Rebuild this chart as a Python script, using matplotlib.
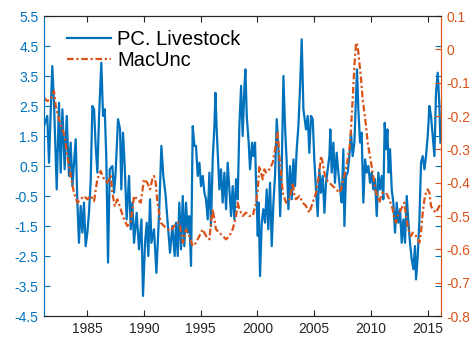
import numpy as np
import matplotlib
matplotlib.use("Agg")
import matplotlib.pyplot as plt
from matplotlib.ticker import FixedLocator, FormatStrFormatter

plt.rcParams["font.family"] = ["Liberation Sans", "DejaVu Sans"]

BLUE = "#0072BD"
ORANGE = "#D95319"
DARK = "#262626"

# principal component of livestock prices (left axis)
pc_years = [
    1981.20, 1981.49, 1981.64, 1981.93, 1982.08, 1982.32, 1982.52, 1982.67, 1982.82, 1983.02,
    1983.20, 1983.40, 1983.55, 1983.70, 1983.99, 1984.14, 1984.28, 1984.43, 1984.58, 1984.72,
    1984.87, 1985.02, 1985.16, 1985.31, 1985.46, 1985.61, 1985.75, 1985.90, 1986.05, 1986.25,
    1986.40, 1986.55, 1986.69, 1986.84, 1986.99, 1987.22, 1987.37, 1987.51, 1987.72, 1987.90,
    1988.01, 1988.16, 1988.31, 1988.48, 1988.69, 1988.84, 1988.98, 1989.13, 1989.36, 1989.57,
    1989.78, 1989.92, 1990.10, 1990.25, 1990.39, 1990.54, 1990.66, 1990.89, 1991.10, 1991.33,
    1991.54, 1991.71, 1991.92, 1992.07, 1992.30, 1992.51, 1992.71,
    1992.83, 1992.98, 1993.12, 1993.27, 1993.42, 1993.56, 1993.71, 1993.86, 1994.00, 1994.15,
    1994.30, 1994.45, 1994.59, 1994.74, 1994.89, 1995.03, 1995.18, 1995.33, 1995.47, 1995.62,
    1995.77, 1995.91, 1996.06, 1996.21, 1996.30, 1996.41, 1996.50, 1996.65, 1996.79, 1996.94,
    1997.09, 1997.24, 1997.38, 1997.53, 1997.68, 1997.82, 1997.97, 1998.12, 1998.26, 1998.41,
    1998.56, 1998.70, 1998.85, 1998.94, 1999.06, 1999.23, 1999.35, 1999.53, 1999.64, 1999.79,
    1999.88, 2000.03, 2000.11, 2000.23, 2000.38, 2000.52, 2000.67, 2000.82, 2000.96, 2001.11,
    2001.26, 2001.41, 2001.55, 2001.70, 2001.85, 2002.00, 2002.14, 2002.29, 2002.43, 2002.58,
    2002.73, 2002.87, 2003.02, 2003.17, 2003.31, 2003.46, 2003.61, 2003.76, 2003.90, 2004.05,
    2004.28, 2004.43, 2004.57, 2004.72, 2004.87, 2005.01, 2005.16, 2005.31, 2005.45, 2005.60,
    2005.75, 2005.90, 2006.04, 2006.19, 2006.34, 2006.42, 2006.54, 2006.69, 2006.83, 2006.98,
    2007.13, 2007.28, 2007.42, 2007.57, 2007.66, 2007.80, 2007.95, 2008.10, 2008.24, 2008.39,
    2008.54, 2008.69, 2008.77, 2008.89, 2009.04, 2009.18, 2009.33, 2009.48, 2009.63, 2009.77,
    2009.92, 2010.07, 2010.21, 2010.36, 2010.51, 2010.65, 2010.80, 2010.95, 2011.09, 2011.21,
    2011.33, 2011.45, 2011.56, 2011.68, 2011.83, 2011.97, 2012.12, 2012.27, 2012.41, 2012.56,
    2012.71, 2012.86, 2013.00, 2013.15, 2013.30, 2013.44, 2013.59, 2013.74, 2013.88, 2013.97,
    2014.12, 2014.27, 2014.41, 2014.56, 2014.71, 2014.85, 2015.00, 2015.15, 2015.29, 2015.44,
    2015.59, 2015.73, 2015.88, 2016.03, 2016.12,
]
pc_values = [
    1.83, 2.17, 0.61, 3.83, 2.61, -0.28, 2.61, 0.28, 2.39, 0.39,
    2.17, 0.17, 1.28, -0.17, 1.39, -0.72, -2.06, -0.83, -1.72, -0.72,
    -2.17, -1.72, -1.06, -0.06, 2.5, 2.39, 1.17, 0.28, 2.17, 3.94,
    2.17, 2.39, 0.72, -2.72, 0.39, 0.5, -0.39, 0.28, 2.06, 1.72,
    -0.28, 1.61, 0.5, -1.28, 0.17, -1.61, -0.72, -2.06, -1.06, -2.28,
    -1.28, -3.83, -2.06, -1.39, -2.5, -0.61, -2.06, -1.61, -3.06, -1.17,
    1.17, 0.17, -0.5, -1.28, -2.39, -1.5, -2.5,
    -1.39, -2.5, -0.72, -2.28, -0.5, -2.17, -0.72, -1.72, -1.17, -2.83,
    1.83, 1.17, 1.17, 0.17, 0.61, -0.17, 0.17, -0.39, -0.61, -1.28,
    0.28, -1.5, 0.72, 1.83, 2.94, 1.72, 0.94, -0.28, 0.39, -0.72,
    0.28, -0.94, 0.61, -0.28, -1.17, -0.17, -1.28, 0.06, -0.61, 1.83,
    3.17, 1.5, 3.06, 3.72, 2.17, 1.28, 0.39, 1.28, 0.83, 1.28,
    -0.06, -1.83, -0.72, -3.17, -1.39, -0.94, -1.39, -0.28, -1.61, -0.06,
    -2.17, -0.72, 0.17, 2.06, 1.06, -1.17, 0.39, 3.5, 1.83, 0.61,
    -0.94, 0.5, -0.61, 0.72, -0.17, 1.06, 1.83, 3.17, 4.72, 2.39,
    1.72, 2.17, 0.94, 2.17, 2.06, 0.72, -0.28, -1.17, 0.39, -0.39,
    0.17, -1.06, -0.06, 0.39, 0.83, 1.72, 0.28, 1.28, -0.06, 0.94,
    0.28, -0.28, -0.72, 1.06, -1.5, 0.17, 0.28, 0.83, 1.61, 0.83,
    1.28, 2.94, 3.72, 2.39, 1.28, 1.61, -0.72, 0.72, 0.28, 0.5,
    -0.06, 0.28, -0.28, 0.06, -1.17, 0.28, -0.28, 0.17, -0.61, 1.94,
    1.06, 1.72, 0.28, 1.06, -0.28, -0.72, -1.72, -0.72, -1.39, -0.94,
    -2.06, -1.28, -2.06, -0.5, -1.39, -2.06, -2.61, -2.94, -2.17, -3.28,
    -2.5, -1.28, 0.61, 0.83, 0.39, 0.83, 1.5, 2.5, 2.17, 1.5,
    0.83, 2.94, 3.61, 2.5, 1.28,
]

# macro uncertainty index (right axis)
unc_years = [
    1981.20, 1981.49, 1981.79, 1982.08, 1982.23, 1982.52, 1982.82, 1983.02, 1983.26, 1983.55,
    1983.84, 1984.14, 1984.43, 1984.72, 1985.02, 1985.31, 1985.61, 1985.90, 1986.19, 1986.49,
    1986.78, 1987.07, 1987.22, 1987.43, 1987.66, 1987.95, 1988.25, 1988.54, 1988.84, 1989.13,
    1989.42, 1989.72, 1990.01, 1990.30, 1990.54, 1990.74, 1990.89, 1991.04, 1991.19, 1991.48,
    1991.77, 1992.07, 1992.36, 1992.65, 1992.95,
    1993.12, 1993.42, 1993.71, 1994.00, 1994.30, 1994.59, 1994.89, 1995.18, 1995.47, 1995.77,
    1995.91, 1996.06, 1996.21, 1996.35, 1996.65, 1996.94, 1997.24, 1997.53, 1997.82, 1998.12,
    1998.26, 1998.41, 1998.70, 1998.99, 1999.29, 1999.58, 1999.88, 2000.03, 2000.17, 2000.32,
    2000.47, 2000.61, 2000.76, 2001.05, 2001.35, 2001.64, 2001.79, 2001.93, 2002.08, 2002.23,
    2002.52, 2002.82, 2003.11, 2003.26, 2003.40, 2003.70, 2003.99, 2004.28,
    2004.57, 2004.87, 2005.16, 2005.45, 2005.60, 2005.75, 2005.90, 2006.04, 2006.34, 2006.63,
    2006.92, 2007.22, 2007.36, 2007.51, 2007.80, 2008.10, 2008.24, 2008.39, 2008.54, 2008.69,
    2008.83, 2008.98, 2009.13, 2009.27, 2009.42, 2009.57, 2009.71, 2009.86, 2010.01, 2010.15,
    2010.30, 2010.45, 2010.59, 2010.74, 2010.89, 2011.03, 2011.33, 2011.62, 2011.92, 2012.06,
    2012.21, 2012.36, 2012.50, 2012.80, 2012.94, 2013.09, 2013.24, 2013.38, 2013.53, 2013.68,
    2013.97, 2014.27, 2014.41, 2014.56, 2014.71, 2014.85, 2015.00, 2015.15, 2015.29, 2015.44,
    2015.73, 2016.03, 2016.17,
]
unc_values = [
    -0.145, -0.155, -0.15, -0.125, -0.17, -0.21, -0.24, -0.26, -0.32, -0.38,
    -0.43, -0.46, -0.45, -0.44, -0.45, -0.44, -0.455, -0.39, -0.365, -0.39,
    -0.40, -0.38, -0.43, -0.47, -0.45, -0.48, -0.51, -0.53, -0.52, -0.44,
    -0.45, -0.46, -0.39, -0.40, -0.42, -0.39, -0.38, -0.40, -0.46, -0.52,
    -0.53, -0.54, -0.545, -0.53, -0.52,
    -0.52, -0.58, -0.54, -0.56, -0.59, -0.58, -0.56, -0.54, -0.56, -0.57,
    -0.52, -0.48, -0.51, -0.54, -0.55, -0.56, -0.57, -0.56, -0.54, -0.50,
    -0.46, -0.48, -0.50, -0.49, -0.50, -0.50, -0.46, -0.42, -0.35, -0.37,
    -0.39, -0.36, -0.37, -0.36, -0.34, -0.28, -0.25, -0.32, -0.37, -0.43,
    -0.46, -0.45, -0.40, -0.44, -0.45, -0.44, -0.46, -0.47,
    -0.49, -0.46, -0.43, -0.37, -0.32, -0.34, -0.37, -0.39, -0.40, -0.41,
    -0.42, -0.43, -0.42, -0.40, -0.36, -0.30, -0.24, -0.15, -0.05, 0.02,
    0.01, -0.04, -0.09, -0.15, -0.19, -0.23, -0.28, -0.31, -0.34, -0.37,
    -0.40, -0.43, -0.44, -0.46, -0.44, -0.43, -0.43, -0.45, -0.48, -0.51,
    -0.52, -0.50, -0.49, -0.47, -0.46, -0.50, -0.53, -0.55, -0.56, -0.55,
    -0.56, -0.58, -0.55, -0.49, -0.45, -0.43, -0.42, -0.43, -0.47, -0.48,
    -0.49, -0.47, -0.46,
]

left_ticks = [-4.5, -3.5, -2.5, -1.5, -0.5, 0.5, 1.5, 2.5, 3.5, 4.5, 5.5]
right_ticks = [-0.8, -0.7, -0.6, -0.5, -0.4, -0.3, -0.2, -0.1, 0, 0.1]
right_labels = ["-0.8", "-0.7", "-0.6", "-0.5", "-0.4", "-0.3", "-0.2", "-0.1", "0", "0.1"]
year_ticks = [1985, 1990, 1995, 2000, 2005, 2010, 2015]

fig = plt.figure(figsize=(4.73, 3.40), dpi=100)
ax = fig.add_axes([44 / 473, 24 / 340, 397 / 473, 300 / 340])
ax2 = ax.twinx()

l1, = ax.plot(pc_years, pc_values, color=BLUE, lw=1.6, label="PC. Livestock")
l2, = ax2.plot(unc_years, unc_values, color=ORANGE, lw=1.6,
               linestyle=(0, (3.0, 1.2, 1.0, 1.2)), label="MacUnc")

ax.set_xlim(1981.2, 2016.17)
ax.set_ylim(-4.5, 5.5)
ax2.set_ylim(-0.8, 0.1)

ax.set_xticks(year_ticks)
ax.yaxis.set_major_locator(FixedLocator(left_ticks))
ax.yaxis.set_major_formatter(FormatStrFormatter("%.1f"))
ax2.set_yticks(right_ticks)
ax2.set_yticklabels(right_labels)

ax.tick_params(axis="x", direction="in", top=True, length=4, width=0.8,
               colors=DARK, labelsize=10, pad=4)
ax.tick_params(axis="y", direction="in", right=True, length=4, width=0.8,
               colors=BLUE, labelsize=10, pad=4)
ax2.tick_params(axis="y", direction="in", length=4, width=0.8,
                colors=ORANGE, labelsize=10, pad=4)

for a in (ax, ax2):
    a.spines["top"].set_color(DARK)
    a.spines["bottom"].set_color(DARK)
    a.spines["left"].set_color(BLUE)
    a.spines["right"].set_color(ORANGE)
    for s in a.spines.values():
        s.set_linewidth(0.8)

leg = ax2.legend(handles=[l1, l2], loc="upper left", bbox_to_anchor=(0.058, 0.952),
                 frameon=False, fontsize=14.5, handlelength=2.2, handletextpad=0.3,
                 labelspacing=0.1, borderpad=0, borderaxespad=0)

fig.savefig("out.png", dpi=100)
